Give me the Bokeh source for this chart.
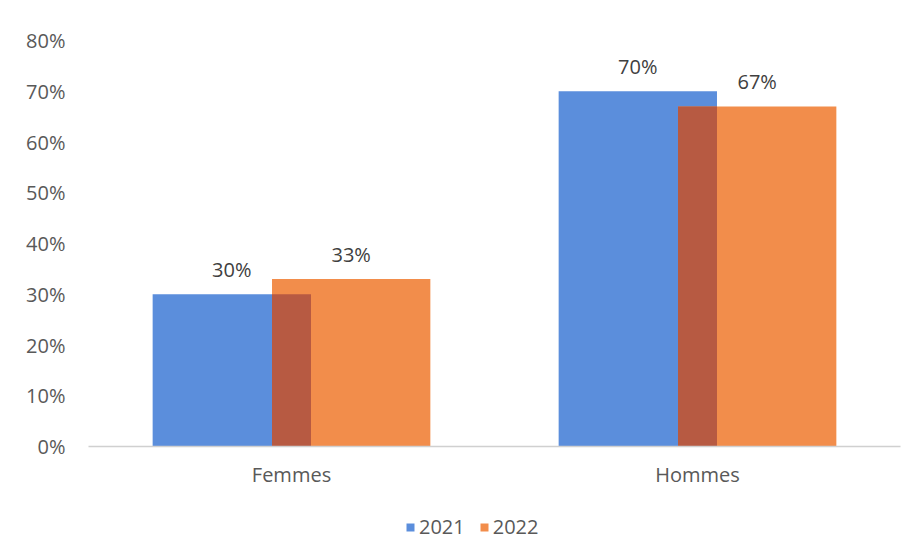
from bokeh.plotting import figure
from bokeh.layouts import column
from bokeh.models import ColumnDataSource, FixedTicker, PrintfTickFormatter, Legend, LegendItem, Range1d
from bokeh.transform import dodge
from bokeh.core.properties import value
from bokeh.embed import file_html
from bokeh.resources import INLINE

categories = ["Femmes", "Hommes"]
v2021 = [30, 70]
v2022 = [33, 67]
labels2021 = ["30%", "70%"]
labels2022 = ["33%", "67%"]
series = ["2021", "2022"]
y_ticks = [0, 10, 20, 30, 40, 50, 60, 70, 80]

BLUE = "#5B8EDC"
ORANGE = "#F28D4B"
OVERLAP = "#B75A42"
FONT = "Open Sans"
TXT = "#595959"
FS = "20px"

src = ColumnDataSource(dict(cat=categories, v1=v2021, v2=v2022,
                            vmin=[min(a, b) for a, b in zip(v2021, v2022)],
                            l1=labels2021, l2=labels2022))

p = figure(x_range=categories, y_range=Range1d(0, 80), width=917, height=505,
           output_backend="svg", toolbar_location=None,
           min_border_left=88, min_border_right=17, min_border_top=40, min_border_bottom=59)
p.outline_line_color = None
p.xgrid.grid_line_color = None
p.ygrid.grid_line_color = None
p.background_fill_color = "white"

off = 0.147
w = 0.39
r1 = p.vbar(x=dodge("cat", -off, range=p.x_range), top="v1", width=w, source=src,
            fill_color=BLUE, line_color=None)
r2 = p.vbar(x=dodge("cat", off, range=p.x_range), top="v2", width=w, source=src,
            fill_color=ORANGE, line_color=None)
# overlap region (darker where the two bars cross)
p.vbar(x=dodge("cat", 0, range=p.x_range), top="vmin", width=w - 2 * off, source=src,
       fill_color=OVERLAP, line_color=None)

p.text(x=dodge("cat", -off, range=p.x_range), y="v1", text="l1", source=src,
       text_align="center", text_baseline="bottom", y_offset=-11,
       text_font=value(FONT), text_font_size=FS, text_color="#404040")
p.text(x=dodge("cat", off, range=p.x_range), y="v2", text="l2", source=src,
       text_align="center", text_baseline="bottom", y_offset=-11,
       text_font=value(FONT), text_font_size=FS, text_color="#404040")

p.yaxis.ticker = FixedTicker(ticks=y_ticks)
p.yaxis.formatter = PrintfTickFormatter(format="%d%%")
p.yaxis.axis_line_color = None
p.yaxis.major_tick_line_color = None
p.yaxis.minor_tick_line_color = None
p.yaxis.major_label_standoff = 17
p.yaxis.major_label_text_font = FONT
p.yaxis.major_label_text_font_size = FS
p.yaxis.major_label_text_color = TXT

p.xaxis.axis_line_color = "#D0D0D0"
p.xaxis.axis_line_width = 1.5
p.xaxis.major_tick_line_color = None
p.xaxis.minor_tick_line_color = None
p.xaxis.major_label_standoff = 8
p.xaxis.major_label_text_font = FONT
p.xaxis.major_label_text_font_size = FS
p.xaxis.major_label_text_color = TXT

# legend strip below the chart (its frame is aligned with the chart's frame)
pl = figure(width=917, height=54, x_range=(0, 1), y_range=(0, 1),
            output_backend="svg", toolbar_location=None,
            min_border_left=0, min_border_right=0, min_border_top=0, min_border_bottom=0)
pl.axis.visible = False
pl.grid.visible = False
pl.outline_line_color = None
dummy = ColumnDataSource(dict(x=[-5], top=[0]))  # zero-height, only for legend swatches
g1 = pl.vbar(x="x", top="top", width=0.1, source=dummy, fill_color=BLUE, line_color=None)
g2 = pl.vbar(x="x", top="top", width=0.1, source=dummy, fill_color=ORANGE, line_color=None)
legend = Legend(items=[LegendItem(label=series[0], renderers=[g1]),
                       LegendItem(label=series[1], renderers=[g2])],
                orientation="horizontal", location=(317, 19),
                label_text_font=FONT, label_text_font_size=FS, label_text_color=TXT,
                glyph_width=10, glyph_height=10, spacing=14, label_standoff=4,
                padding=0, margin=0,
                border_line_color=None, background_fill_alpha=0)
pl.add_layout(legend, "center")

layout = column(p, pl, spacing=0)
open("out.html", "w").write(file_html(layout, INLINE))
